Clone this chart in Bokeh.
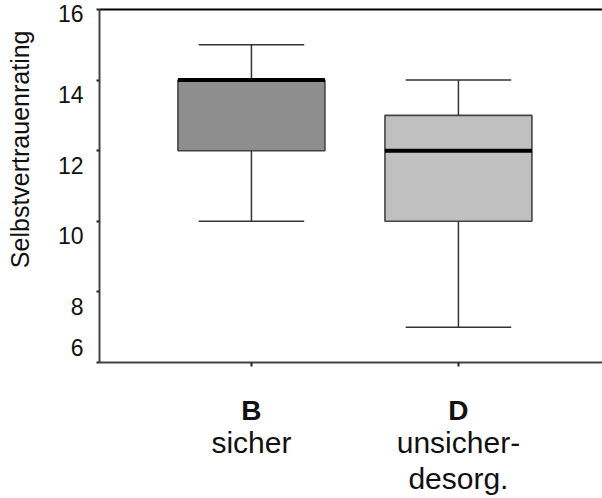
from bokeh.plotting import figure
from bokeh.models import Range1d, FixedTicker, LinearAxis, Title
from bokeh.embed import file_html
from bokeh.resources import INLINE

# ---- data ----
groups = ["B", "D"]
group_desc = ["sicher", "unsicher-\ndesorg."]
whisker_low = [10, 7]
q1 = [12, 10]
median = [14, 12]
q3 = [14, 13]
whisker_high = [15, 14]
fills = ["#8e8e8e", "#c0c0c0"]
y_ticks = [6, 8, 10, 12, 14, 16]
y_label = "Selbstvertrauenrating"

FONT = "Liberation Sans"
xs = [i + 1 for i in range(len(groups))]
box_w = 0.71
cap_w = 0.51

p = figure(width=602, height=498, output_backend="svg", toolbar_location=None,
           x_range=Range1d(0.266, 2.696), y_range=Range1d(6, 16),
           min_border_left=99, min_border_right=0, min_border_top=9,
           min_border_bottom=135)
p.grid.visible = False
p.outline_line_color = None
p.background_fill_color = "white"
p.border_fill_color = "white"

xa = p.below[0]
ya = p.left[0]

# boxes
p.vbar(x=xs, width=box_w, bottom=q1, top=q3, fill_color=fills,
       line_color="#444444", line_width=1.6)
# whiskers
p.segment(x0=xs, y0=q3, x1=xs, y1=whisker_high, line_color="#333333", line_width=1.5)
p.segment(x0=xs, y0=q1, x1=xs, y1=whisker_low, line_color="#333333", line_width=1.5)
p.segment(x0=[x - cap_w / 2 for x in xs], y0=whisker_high,
          x1=[x + cap_w / 2 for x in xs], y1=whisker_high,
          line_color="#333333", line_width=1.5)
p.segment(x0=[x - cap_w / 2 for x in xs], y0=whisker_low,
          x1=[x + cap_w / 2 for x in xs], y1=whisker_low,
          line_color="#333333", line_width=1.5)
# median
p.segment(x0=[x - box_w / 2 for x in xs], y0=median,
          x1=[x + box_w / 2 for x in xs], y1=median,
          line_color="black", line_width=4)

# top frame line (a bare axis above)
top = LinearAxis(ticker=FixedTicker(ticks=[]))
top.axis_line_color = "black"
top.axis_line_width = 2
top.major_tick_out = 0
top.major_tick_in = 0
top.minor_tick_line_color = None
top.major_label_standoff = 0
top.major_label_text_font_size = "0px"
p.add_layout(top, "above")

# y axis (labels sit just below their ticks, the lowest one just above)
def ylab(t):
    if t == y_ticks[0]:
        return str(t) + "\n"
    if t == y_ticks[-1]:
        return str(t)
    return "\n" + str(t)

ya.ticker = FixedTicker(ticks=y_ticks)
ya.major_label_overrides = {t: ylab(t) for t in y_ticks}
ya.minor_tick_line_color = None
ya.major_tick_in = 0
ya.major_tick_out = 3
ya.major_tick_line_width = 2
ya.major_tick_line_color = "#222222"
ya.axis_line_color = "#444444"
ya.axis_line_width = 2
ya.major_label_text_font = FONT
ya.major_label_text_font_size = "23px"
ya.major_label_text_color = "#111111"
ya.major_label_text_line_height = 1.15
ya.major_label_standoff = 13

# y axis title, placed toward the top-left like the reference
ytitle = Title(text=y_label + "\n", align="right", offset=21, standoff=0,
               text_font=FONT, text_font_size="25px", text_font_style="normal",
               text_line_height=0.75, text_color="#111111")
p.add_layout(ytitle, "left")

# x axis: bold group letters
xa.ticker = FixedTicker(ticks=xs)
xa.major_label_overrides = {x: g for x, g in zip(xs, groups)}
xa.minor_tick_line_color = None
xa.major_tick_in = 0
xa.major_tick_out = 4
xa.major_tick_line_width = 2
xa.major_tick_line_color = "#222222"
xa.axis_line_color = "#444444"
xa.axis_line_width = 2
xa.major_label_text_font = FONT
xa.major_label_text_font_style = "bold"
xa.major_label_text_font_size = "28px"
xa.major_label_text_color = "#111111"
xa.major_label_standoff = 28

ax = LinearAxis(ticker=FixedTicker(ticks=xs),
                major_label_overrides={x: t for x, t in zip(xs, group_desc)})
ax.axis_line_color = None
ax.major_tick_line_color = None
ax.minor_tick_line_color = None
ax.major_tick_out = 0
ax.major_tick_in = 0
ax.major_label_text_font = FONT
ax.major_label_text_font_size = "30px"
ax.major_label_text_line_height = 1.12
ax.major_label_text_color = "#111111"
ax.major_label_standoff = -3
p.add_layout(ax, "below")

open("out.html", "w").write(file_html(p, INLINE))
